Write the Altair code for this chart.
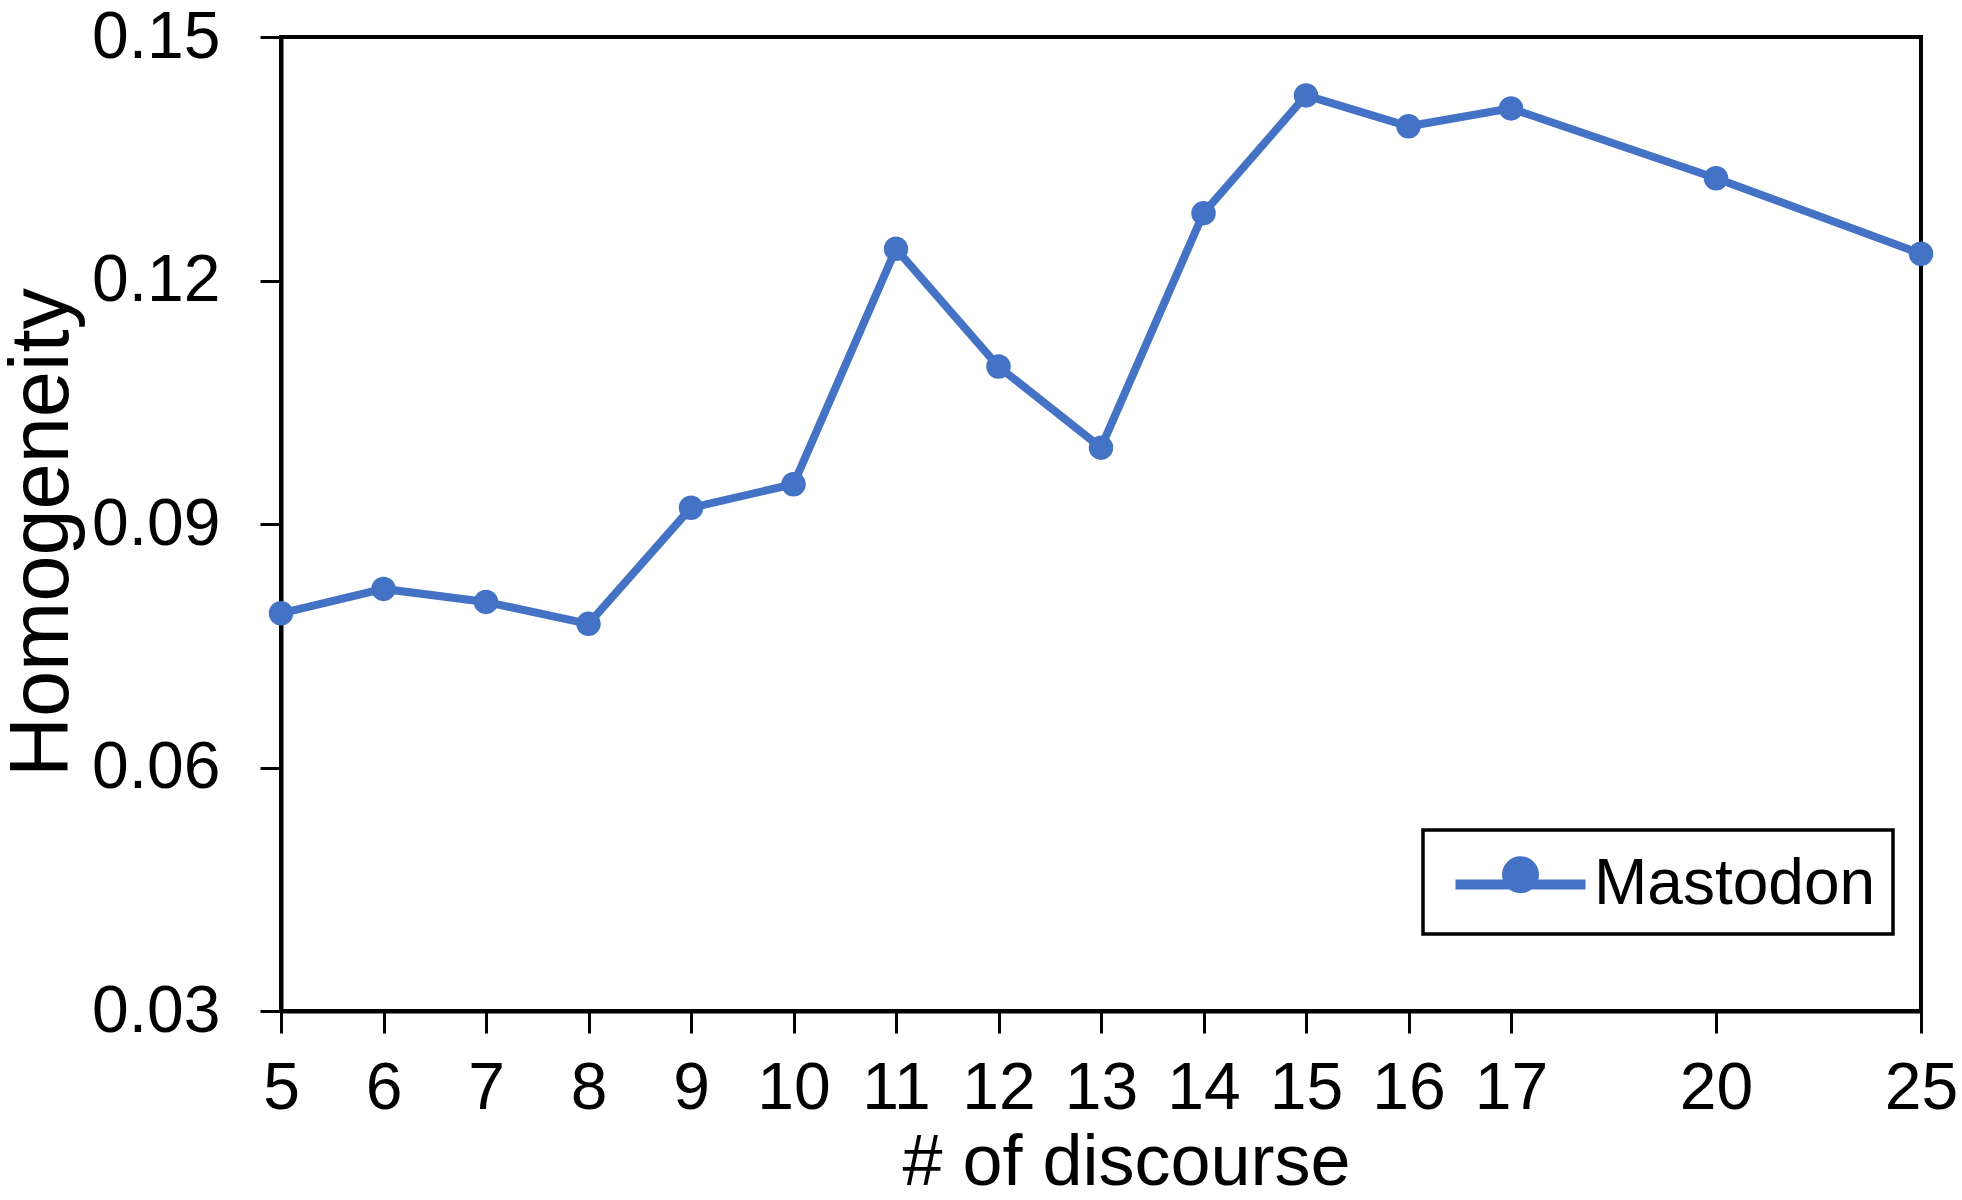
import altair as alt
import pandas as pd

# ---- data ----
discourse = ["5", "6", "7", "8", "9", "10", "11", "12", "13", "14", "15", "16", "17", "20", "25"]
homogeneity = [0.0790, 0.0820, 0.0804, 0.0777, 0.0920, 0.0949, 0.1239, 0.1094,
               0.0994, 0.1283, 0.1428, 0.1390, 0.1412, 0.1326, 0.1233]
# category axis with an empty slot between 17 and 20 and between 20 and 25
x_categories = ["5", "6", "7", "8", "9", "10", "11", "12", "13", "14", "15", "16", "17",
                "gap1", "20", "gap2", "25"]
y_ticks = [0.03, 0.06, 0.09, 0.12, 0.15]
series_name = "Mastodon"

df = pd.DataFrame({"discourse": discourse, "homogeneity": homogeneity, "series": series_name})

BLUE = "#4472C4"
FONT = "Liberation Sans"

# legend glyph: a line with a dot sitting on it (path spans -2..2 units)
LEGEND_PATH = ("M-2,0L2,0M-0.415,-0.3a0.415,0.415 0 1,0 0.83,0"
               "a0.415,0.415 0 1,0 -0.83,0")

chart = alt.Chart(df).mark_line(
    strokeWidth=8,
    point=alt.OverlayMarkDef(filled=True, size=600, opacity=1),
).encode(
    x=alt.X(
        "discourse:O",
        sort=None,
        scale=alt.Scale(type="point", domain=x_categories, padding=0),
        axis=alt.Axis(
            values=discourse, labelAngle=0, title="# of discourse",
            labelFontSize=66, labelPadding=23, tickSize=22, tickWidth=3,
            titleFontSize=72, titleFontWeight="normal", titleBaseline="top",
            titleX=845, titleY=116, titleAlign="center",
            domainWidth=4, domainColor="black", tickColor="black",
            labelColor="black", titleColor="black", labelFont=FONT, titleFont=FONT,
            grid=False, labelOverlap=False,
        ),
    ),
    y=alt.Y(
        "homogeneity:Q",
        scale=alt.Scale(domain=[0.03, 0.15], nice=False, zero=False),
        axis=alt.Axis(
            values=y_ticks, format=".2f", title="Homogeneity",
            labelFontSize=66, labelPadding=40, tickSize=21, tickWidth=3,
            titleFontSize=83, titleFontWeight="normal", titleBaseline="top",
            titleX=-280, titleY=495, titleAngle=270, titleAlign="center",
            domainWidth=4, domainColor="black", tickColor="black",
            labelColor="black", titleColor="black", labelFont=FONT, titleFont=FONT,
            grid=False,
        ),
    ),
    color=alt.Color(
        "series:N",
        scale=alt.Scale(range=[BLUE]),
        legend=alt.Legend(
            title=None, orient="none", legendX=1142, legendY=793,
            strokeColor="black", padding=17,
            symbolType=LEGEND_PATH, symbolOffset=43,
            symbolSize=4225, symbolStrokeWidth=10, symbolFillColor=BLUE,
            symbolStrokeColor=BLUE, symbolOpacity=1,
            labelFontSize=64, labelFont=FONT, labelColor="black", labelOffset=36,
            labelLimit=0,
        ),
    ),
).properties(
    width=1640, height=974,
    background="white",
    autosize=alt.AutoSizeParams(type="none"),
    padding={"left": 281, "top": 37, "right": 41, "bottom": 189},
).configure_view(
    stroke="black", strokeWidth=4,
).configure_legend(
    strokeWidth=3.5,
)

chart.save("out.html", embed_options={"renderer": "svg", "actions": False})
